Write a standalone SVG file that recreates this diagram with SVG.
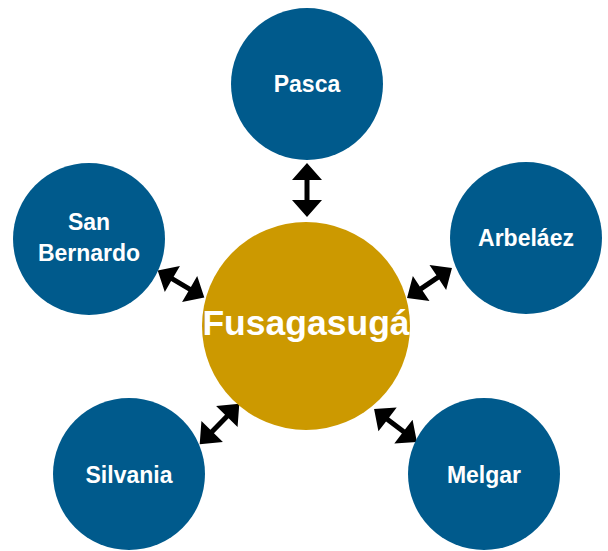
<svg xmlns="http://www.w3.org/2000/svg" width="608" height="551" viewBox="0 0 608 551">
<style>
.sat{fill:#005A8C}
.hub{fill:#CC9900}
.lbl{font-family:"Liberation Sans",Arial,sans-serif;font-weight:bold;font-size:23px;fill:#FFFFFF;text-anchor:middle}
.big{font-size:35.5px}
.arr{fill:#000000}
</style>
<defs>
<polygon id="dbl" points="-27,0 -10,-15 -10,-2.5 10,-2.5 10,-15 27,0 10,15 10,2.5 -10,2.5 -10,15"/>
</defs>
<rect width="608" height="551" fill="#FFFFFF"/>
<g id="connectors" class="arr">
<use href="#dbl" transform="translate(307,190) rotate(90)"/>
<use href="#dbl" transform="translate(429.5,283) rotate(-33.7)"/>
<use href="#dbl" transform="translate(181,284) rotate(30.3)"/>
<use href="#dbl" transform="translate(219.5,424) rotate(-45.7) scale(1.05,1)"/>
<use href="#dbl" transform="translate(395.5,425.5) rotate(37.5)"/>
</g>
<g id="fusagasuga">
<circle class="hub" cx="306" cy="326" r="104"/>
<text class="lbl big" x="306" y="335">Fusagasugá</text>
</g>
<g id="pasca">
<circle class="sat" cx="307" cy="84" r="76"/>
<text class="lbl" x="307" y="92">Pasca</text>
</g>
<g id="arbelaez">
<circle class="sat" cx="526" cy="238" r="76"/>
<text class="lbl" x="526" y="246">Arbeláez</text>
</g>
<g id="san-bernardo">
<circle class="sat" cx="89" cy="239" r="76"/>
<text class="lbl" x="89" y="230">San</text>
<text class="lbl" x="89" y="261">Bernardo</text>
</g>
<g id="silvania">
<circle class="sat" cx="129" cy="474" r="76"/>
<text class="lbl" x="129" y="483">Silvania</text>
</g>
<g id="melgar">
<circle class="sat" cx="484" cy="474" r="76"/>
<text class="lbl" x="484" y="483">Melgar</text>
</g>
</svg>
